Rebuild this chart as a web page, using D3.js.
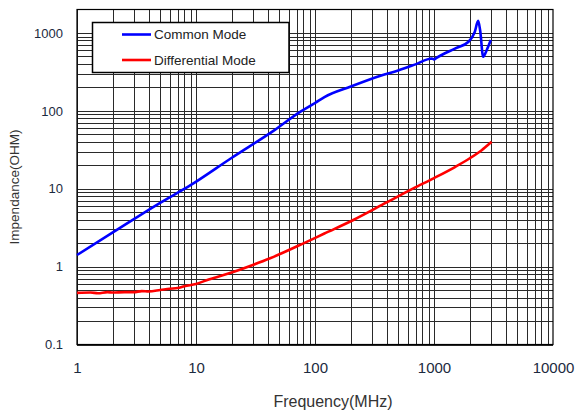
<!DOCTYPE html>
<html>
<head>
<meta charset="utf-8">
<script src="https://cdn.jsdelivr.net/npm/d3@7"></script>
<style>
  body { margin: 0; background: #fff; }
  svg { display: block; font-family: "Liberation Sans", Arial, sans-serif; }
</style>
</head>
<body>
<svg id="chart" width="577" height="416"></svg>
<script>
// DATA
// frequency (MHz) / impedance (ohm)
var commonFreq = [1, 2, 5, 9, 20, 46, 75, 100, 120, 200, 350, 500, 700, 960, 1000, 1050, 1500, 1950, 2200, 2350, 2440, 2590, 2770, 3000];
var commonImp  = [1.41, 2.75, 6.6, 11.1, 25, 57, 97, 126, 150, 205, 280, 330, 395, 470, 458, 480, 630, 770, 1030, 1430, 1090, 495, 600, 810];

var diffFreq = [1, 1.3, 1.5, 1.8, 2, 2.5, 3, 3.5, 4, 5, 6, 7, 8, 10, 13, 19, 30, 42, 80, 120, 210, 400, 670, 1000, 1500, 2000, 2500, 3050];
var diffImp  = [0.46, 0.465, 0.455, 0.47, 0.465, 0.47, 0.47, 0.485, 0.48, 0.5, 0.52, 0.53, 0.56, 0.6, 0.69, 0.82, 1.05, 1.28, 1.99, 2.66, 3.97, 6.67, 10.1, 13.7, 19, 24.6, 31, 40];

var xTicks = [1, 10, 100, 1000, 10000];
var yTicks = [0.1, 1, 10, 100, 1000];
var seriesNames = ["Common Mode", "Differential Mode"];
var seriesColors = ["#0000ff", "#ff0000"];

// plot box (window.top is reserved, so own names)
var plotL = 77, plotR = 553, plotT = 9.5, plotB = 344.5;

var svg = d3.select("#chart");

var x = d3.scaleLog().domain([1, 10000]).range([plotL, plotR]);
var y = d3.scaleLog().domain([0.1, 2000]).range([plotB, plotT]);

// grid lines, 1..9 in every decade
var xGrid = [], yGrid = [];
xTicks.slice(0, -1).forEach(function(d) {
    for (var k = 1; k < 10; k++) xGrid.push(d * k);
});
yTicks.forEach(function(d) {
    for (var k = 1; k < 10; k++) if (d * k < 2000) yGrid.push(d * k);
});

var grid = svg.append("g")
    .attr("stroke", "#2a2a2a")
    .attr("stroke-width", 1)
    .attr("shape-rendering", "crispEdges");

grid.selectAll(".vx").data(xGrid).enter().append("line")
    .attr("x1", function(d) { return Math.round(x(d)) + 0.5; })
    .attr("x2", function(d) { return Math.round(x(d)) + 0.5; })
    .attr("y1", plotT).attr("y2", plotB);

grid.selectAll(".hy").data(yGrid).enter().append("line")
    .attr("y1", function(d) { return Math.round(y(d)) + 0.5; })
    .attr("y2", function(d) { return Math.round(y(d)) + 0.5; })
    .attr("x1", plotL).attr("x2", plotR);

// frame
svg.append("rect")
    .attr("x", plotL).attr("y", plotT)
    .attr("width", plotR - plotL).attr("height", plotB - plotT)
    .attr("fill", "none").attr("stroke", "#000").attr("stroke-width", 1.2);

// axes
var xAxis = svg.append("g")
    .attr("transform", "translate(0," + plotB + ")")
    .call(d3.axisBottom(x).tickValues(xTicks).tickSize(0).tickPadding(18)
        .tickFormat(d3.format("d")));
xAxis.select(".domain").remove();
xAxis.selectAll("text")
    .attr("fill", "#1c2a40")
    .style("font-size", "15px")
    .style("font-family", "Liberation Sans, Arial, sans-serif");

var yAxis = svg.append("g")
    .attr("transform", "translate(" + plotL + ",0)")
    .call(d3.axisLeft(y).tickValues(yTicks).tickSize(0).tickPadding(14)
        .tickFormat(function(d) { return d < 1 ? "0.1" : d3.format("d")(d); }));
yAxis.select(".domain").remove();
yAxis.selectAll("text")
    .attr("fill", "#1c2a40")
    .style("font-size", "13px")
    .style("font-family", "Liberation Sans, Arial, sans-serif");

// axis titles
svg.append("text")
    .attr("x", 333).attr("y", 407)
    .attr("text-anchor", "middle")
    .attr("fill", "#333")
    .style("font-size", "16px")
    .text("Frequency(MHz)");

svg.append("text")
    .attr("transform", "translate(19,187) rotate(-90)")
    .attr("text-anchor", "middle")
    .attr("fill", "#333")
    .style("font-size", "13.5px")
    .text("Impendance(OHM)");

// curves
var line = d3.line()
    .x(function(d) { return x(d[0]); })
    .y(function(d) { return y(d[1]); })
    .curve(d3.curveMonotoneX);

var series = [d3.zip(commonFreq, commonImp), d3.zip(diffFreq, diffImp)];

svg.selectAll(".curve").data(series).enter().append("path")
    .attr("class", "curve")
    .attr("d", line)
    .attr("fill", "none")
    .attr("stroke", function(d, i) { return seriesColors[i]; })
    .attr("stroke-width", 2.6)
    .attr("stroke-linejoin", "round");

// legend
var legend = svg.append("g");
legend.append("rect")
    .attr("x", 92.5).attr("y", 22.5)
    .attr("width", 196.5).attr("height", 50)
    .attr("fill", "#fff").attr("stroke", "#000").attr("stroke-width", 1.5);

seriesNames.forEach(function(name, i) {
    var ly = 34.5 + i * 25.5;
    legend.append("line")
        .attr("x1", 122).attr("x2", 151)
        .attr("y1", ly).attr("y2", ly)
        .attr("stroke", seriesColors[i]).attr("stroke-width", 2.6);
    legend.append("text")
        .attr("x", 154).attr("y", ly + 4.5)
        .attr("fill", "#222")
        .style("font-size", "13.5px")
        .text(name);
});
</script>
</body>
</html>
